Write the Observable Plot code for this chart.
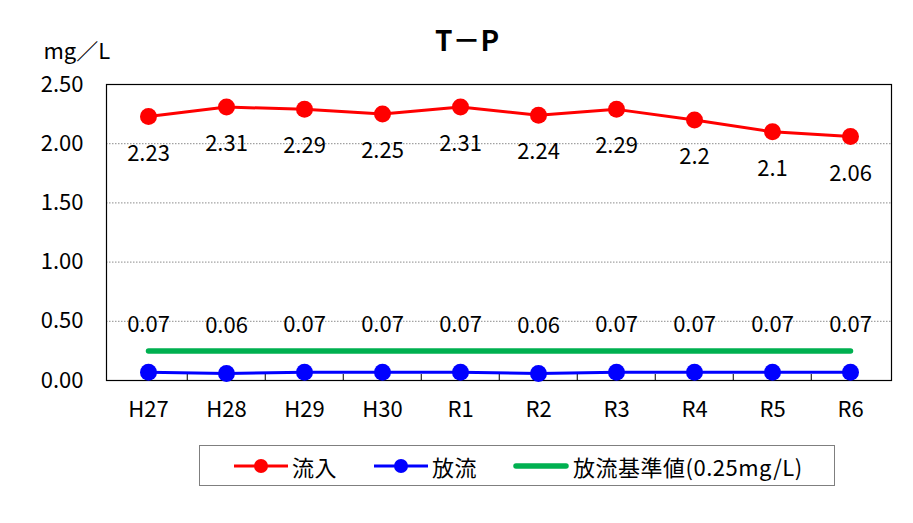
<!DOCTYPE html>
<html><head><meta charset="utf-8">
<script src="https://cdn.jsdelivr.net/npm/d3@7"></script>
<script src="https://cdn.jsdelivr.net/npm/@observablehq/plot@0.6"></script>
<style>
body{margin:0;background:#fff;font-family:"Noto Sans CJK JP",sans-serif;}
#wrap{position:relative;width:913px;height:523px;overflow:hidden;}
#legendBox{position:absolute;left:199px;top:445px;width:634px;height:39px;border:1px solid #7f7f7f;}
.item{position:absolute;top:445px;height:41px;display:flex;align-items:center;font-size:22px;color:#000;white-space:nowrap;}
.item svg{margin-right:4px;}
</style></head><body><div id="wrap"><div id="chart"></div><div id="legendBox"></div></div>
<script>
const title = "T－P";
const unitLabel = "mg／L";
const years = ["H27","H28","H29","H30","R1","R2","R3","R4","R5","R6"];
const inflow = [2.23,2.31,2.29,2.25,2.31,2.24,2.29,2.2,2.1,2.06];
const outflow = [0.07,0.06,0.07,0.07,0.07,0.06,0.07,0.07,0.07,0.07];
const standardValue = 0.25;
const seriesNames = ["流入","放流","放流基準値(0.25mg/L)"];
const seriesColors = ["#ff0000","#0000ff","#00b050"];
const yTicks = [0,0.5,1,1.5,2,2.5];
const gridTicks = [0.5,1,1.5,2];

const inflowRows = years.map((y,i)=>({year:y,value:inflow[i]}));
const outflowRows = years.map((y,i)=>({year:y,value:outflow[i]}));
const stdRows = years.map(y=>({year:y,value:standardValue}));

const W=913,H=440,mL=106,mR=22,mT=84,mB=60;
const step=(W-mL-mR)/years.length;
const frameH=H-mT-mB;
const font='"Noto Sans CJK JP",sans-serif';

const chart = Plot.plot({
  width:W,height:H,marginTop:mT,marginBottom:mB,marginLeft:mL,marginRight:mR,
  style:{fontFamily:font,fontSize:"22px",background:"white",color:"black",overflow:"visible"},
  x:{type:"point",domain:years,padding:0.5,label:null},
  y:{domain:[0,2.5],label:null},
  marks:[
    Plot.ruleY(gridTicks,{stroke:"#8c8c8c",strokeDasharray:"1.5,1.5",strokeWidth:1}),
    Plot.tickX(years.slice(1),{x:d=>d,dx:-step/2,insetTop:frameH-6,stroke:"black",strokeWidth:1}),
    Plot.frame({stroke:"black",strokeWidth:1.2}),
    Plot.axisY(yTicks,{tickFormat:d3.format(".2f"),tickSize:0,tickPadding:23,fontSize:22}),
    Plot.axisX({tickSize:0,tickPadding:21,fontSize:22}),
    Plot.line(stdRows,{x:"year",y:"value",stroke:seriesColors[2],strokeWidth:5.5,strokeLinecap:"round"}),
    Plot.line(inflowRows,{x:"year",y:"value",stroke:seriesColors[0],strokeWidth:3}),
    Plot.dot(inflowRows,{x:"year",y:"value",r:8.5,fill:seriesColors[0]}),
    Plot.line(outflowRows,{x:"year",y:"value",stroke:seriesColors[1],strokeWidth:3}),
    Plot.dot(outflowRows,{x:"year",y:"value",r:8.5,fill:seriesColors[1]}),
    Plot.text(inflowRows,{x:"year",y:"value",text:d=>String(d.value),dy:37,fontSize:22,fill:"black"}),
    Plot.text(outflowRows,{x:"year",y:"value",text:d=>d3.format(".2f")(d.value),dy:-47,fontSize:22,fill:"black"}),
    Plot.text([title],{frameAnchor:"top",lineAnchor:"middle",dx:-32,dy:-42,fontSize:28,fontWeight:"bold",fill:"black",letterSpacing:"2px"}),
    Plot.text([unitLabel],{frameAnchor:"top-left",lineAnchor:"middle",textAnchor:"start",dx:-63,dy:-33,fontSize:22,fill:"black",letterSpacing:"3px"})
  ]
});
document.getElementById("chart").appendChild(chart);

const itemLefts=[234,374,513];
const wrap=document.getElementById("wrap");
seriesNames.forEach((name,i)=>{
  const div=document.createElement("div");
  div.className="item";
  div.style.left=itemLefts[i]+"px";
  const hasDot=i<2;
  const sw=hasDot?54:56;
  const svg=d3.create("svg").attr("width",sw).attr("height",20);
  svg.append("line").attr("x1",hasDot?0:3).attr("x2",hasDot?sw:sw-3).attr("y1",10).attr("y2",10)
    .attr("stroke",seriesColors[i]).attr("stroke-width",hasDot?3:5.5).attr("stroke-linecap",hasDot?"butt":"round");
  if(hasDot) svg.append("circle").attr("cx",sw/2).attr("cy",10).attr("r",7).attr("fill",seriesColors[i]);
  div.appendChild(svg.node());
  const span=document.createElement("span");
  span.textContent=name;
  span.style.letterSpacing="0.5px";
  div.appendChild(span);
  wrap.appendChild(div);
});
</script></body></html>
